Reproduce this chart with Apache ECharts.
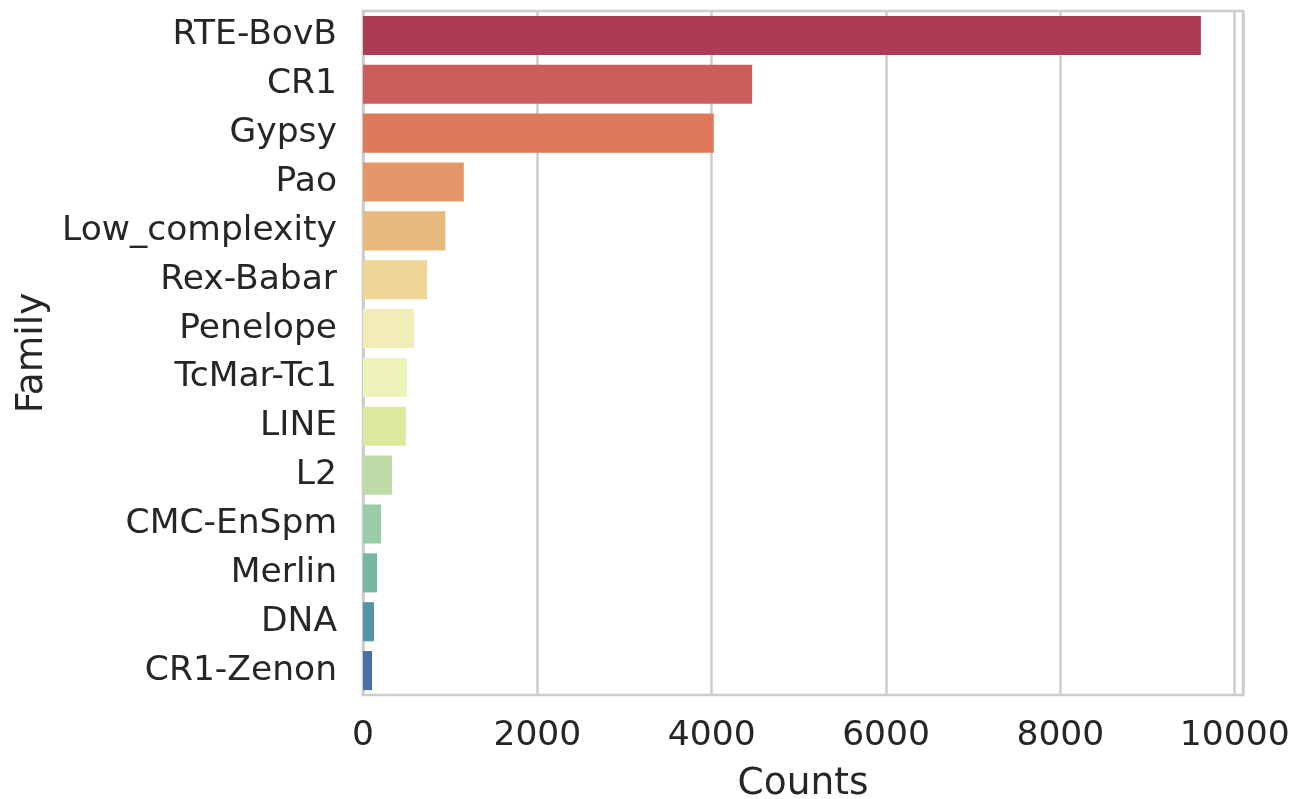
<!DOCTYPE html>
<html>
<head>
<meta charset="utf-8">
<script src="https://cdn.jsdelivr.net/npm/echarts@6/dist/echarts.min.js"></script>
<style>
html,body{margin:0;padding:0;background:#fff;}
#chart{width:1293px;height:799px;}
</style>
</head>
<body>
<div id="chart"></div>
<script>
const families = ["RTE-BovB","CR1","Gypsy","Pao","Low_complexity","Rex-Babar","Penelope","TcMar-Tc1","LINE","L2","CMC-EnSpm","Merlin","DNA","CR1-Zenon"];
const counts = [9612, 4464, 4024, 1156, 945, 736, 586, 505, 494, 333, 207, 161, 126, 103];
const barColors = ["#ae3b54","#cb5e5c","#de7a5a","#e4986a","#e9ba7e","#efd596","#f2ecb6","#eef3ba","#dce99e","#bedca8","#9acca8","#76b8a2","#5494a6","#4a70a8"];
const xTicks = [0, 2000, 4000, 6000, 8000, 10000];
const xMax = 10095;

const chart = echarts.init(document.getElementById('chart'), null, {renderer: 'canvas'});
const txt = '#262626';
const font = 'DejaVu Sans';
chart.setOption({
  animation: false,
  backgroundColor: '#ffffff',
  grid: {left: 363, top: 11, width: 880, height: 684, show: true, borderColor: '#cccccc', borderWidth: 2.5,
         backgroundColor: 'transparent', containLabel: false, outerBoundsMode: 'none'},
  xAxis: {
    type: 'value', min: 0, max: xMax, interval: 2000,
    name: 'Counts', nameLocation: 'middle', nameGap: 70,
    nameTextStyle: {fontFamily: font, fontSize: 37.5, color: txt},
    axisLine: {show: false}, axisTick: {show: false},
    axisLabel: {fontFamily: font, fontSize: 34.5, color: txt, margin: 24,
      formatter: v => xTicks.indexOf(v) >= 0 ? String(v) : ''},
    splitLine: {show: true, lineStyle: {color: '#cccccc', width: 2.5}}
  },
  yAxis: {
    type: 'category', data: families, inverse: true,
    name: 'Family', nameLocation: 'middle', nameGap: 311,
    nameTextStyle: {fontFamily: font, fontSize: 37.5, color: txt},
    axisLine: {show: true, lineStyle: {color: '#cccccc', width: 2.5}},
    axisTick: {show: false},
    axisLabel: {fontFamily: font, fontSize: 34.5, color: txt, margin: 26},
    splitLine: {show: false}
  },
  series: [{
    type: 'bar',
    barCategoryGap: '20%',
    data: counts.map((v, i) => ({value: v, itemStyle: {color: barColors[i]}})),
    z: 3
  }]
});
</script>
</body>
</html>
